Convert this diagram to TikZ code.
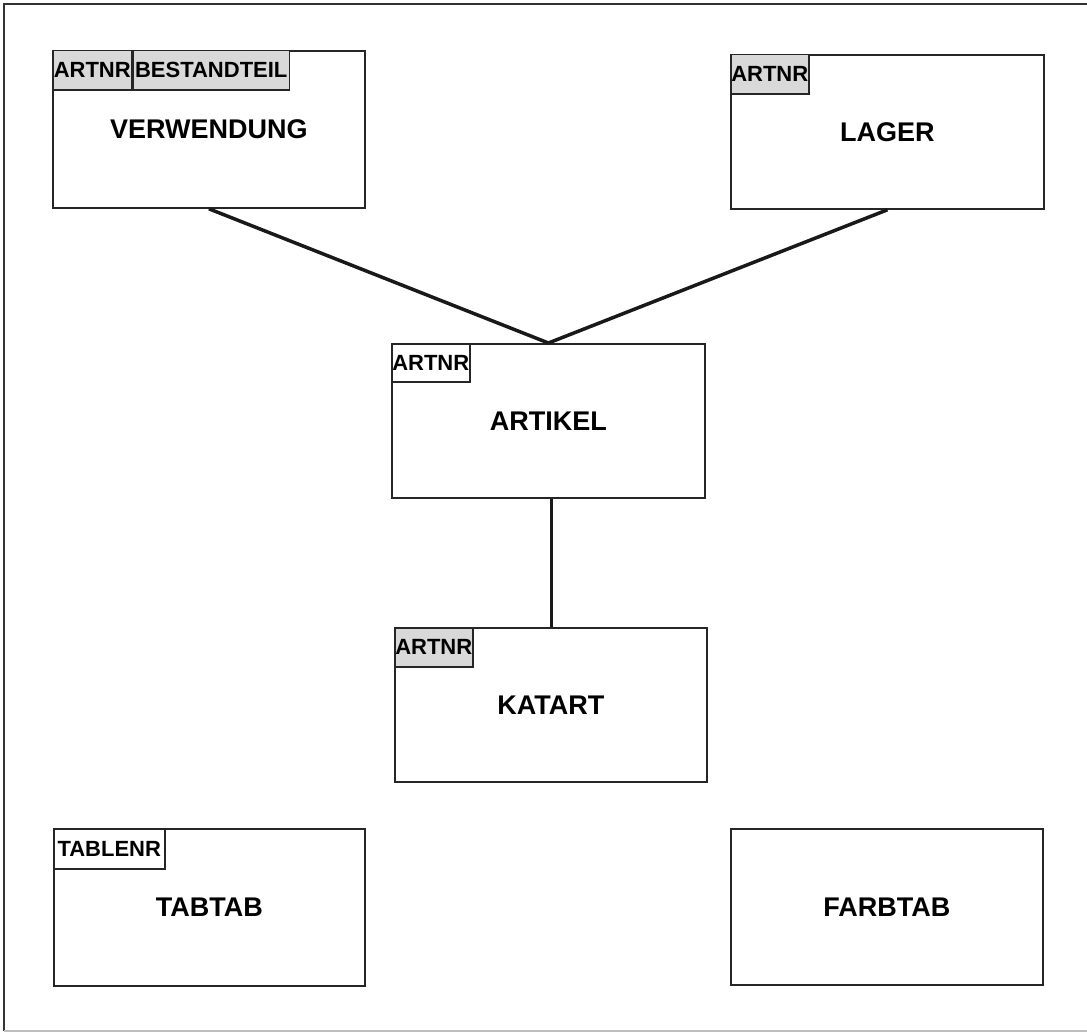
\documentclass[tikz,border=0pt]{standalone}
\usepackage{fontspec}
\setmainfont{Liberation Sans}
\begin{document}
\begin{tikzpicture}[x=1pt,y=-1pt,
  entity/.style={draw=black!85, line width=1.8pt, anchor=north west, inner sep=0pt,
    font=\fontsize{27}{27}\selectfont\bfseries},
  keycell/.style={draw=black!85, line width=1.5pt, anchor=north west, inner sep=0pt,
    font=\fontsize{22}{22}\selectfont\bfseries, minimum height=39pt},
  keyshade/.style={keycell, fill=black!15},
  link/.style={line width=3.5pt, black!90}]
\useasboundingbox (0,0) rectangle (1087,1033);
\draw[black!80, line width=1.8pt] (1087,4) -- (4,4) -- (4,1031);
\draw[black!25, line width=1.2pt] (4,1031) -- (1087,1031);
% entities
\node[entity, minimum width=312pt, minimum height=157pt] (verw) at (52,50) {VERWENDUNG};
\node[entity, minimum width=313pt, minimum height=154pt] (lager) at (730,54) {LAGER};
\node[entity, minimum width=313pt, minimum height=154pt] (artikel) at (391,343) {ARTIKEL};
\node[entity, minimum width=312pt, minimum height=154pt] (katart) at (394,627) {KATART};
\node[entity, minimum width=311pt, minimum height=157pt] (tabtab) at (53,828) {TABTAB};
\node[entity, minimum width=312pt, minimum height=156pt] (farbtab) at (730,828) {FARBTAB};
% key cells
\node[keyshade, minimum width=79pt] (v1) at (verw.north west) {ARTNR};
\node[keyshade, minimum width=156pt] (v2) at (v1.north east) {BESTANDTEIL};
\node[keyshade, minimum width=78pt, minimum height=39pt] (l1) at (lager.north west) {ARTNR};
\node[keycell, minimum width=78pt, minimum height=38pt] (a1) at (artikel.north west) {ARTNR};
\node[keyshade, minimum width=78pt] (k1) at (katart.north west) {ARTNR};
\node[keycell, minimum width=111pt, minimum height=40pt] (t1) at (tabtab.north west) {TABLENR};
% connectors
\draw[link] (verw.south) -- (artikel.north);
\draw[link] (lager.south) -- (artikel.north);
\draw[link] ([xshift=3pt]artikel.south) -- ([xshift=0.5pt]katart.north);
\end{tikzpicture}
\end{document}
